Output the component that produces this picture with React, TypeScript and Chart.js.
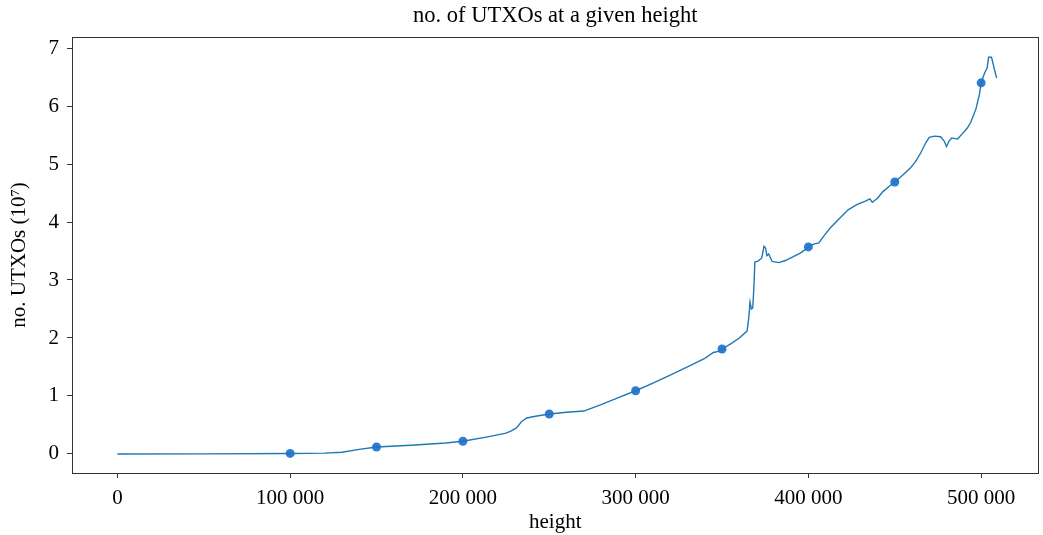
import React, { useEffect, useRef } from "react";
import { Chart, registerables } from "chart.js";

Chart.register(...registerables);

const heights = [
  0, 50000, 100000, 120000, 130000, 140000, 150000, 170000, 190000, 200000,
  215000, 225000, 228000, 231000, 234000, 237000, 242000, 250000, 260000, 270000,
  280000, 290000, 300000, 310000, 320000, 330000, 340000, 345000, 348000, 350000,
  355000, 360000, 364500, 365500, 366200, 367000, 367800, 368500, 369000, 371000,
  373000, 374300, 375200, 376000, 377000, 379000, 383000, 387000, 391000, 395000,
  398000, 400000, 403000, 406000, 410000, 413000, 418000, 423000, 428000, 433000,
  435600, 437000, 440000, 443000, 447000, 450000, 455000, 459000, 462000, 465000,
  468000, 470000, 473000, 476500, 478500, 480000, 481500, 483000, 486400, 489000,
  492000, 494000, 497000, 499000, 500000, 502000, 503500, 504300, 506000, 507800,
  509000,
];
const utxos = [
  0.0, 0.002, 0.008, 0.015, 0.03, 0.08, 0.12, 0.15, 0.19, 0.22,
  0.3, 0.36, 0.4, 0.45, 0.56, 0.62, 0.65, 0.69, 0.72, 0.74,
  0.85, 0.97, 1.09, 1.22, 1.36, 1.5, 1.65, 1.75, 1.77, 1.81,
  1.9, 2.0, 2.12, 2.35, 2.62, 2.5, 2.52, 2.9, 3.31, 3.33,
  3.38, 3.58, 3.55, 3.42, 3.45, 3.32, 3.3, 3.34, 3.4, 3.46,
  3.52, 3.57, 3.62, 3.64, 3.8, 3.91, 4.06, 4.21, 4.3, 4.36,
  4.4, 4.34, 4.41, 4.52, 4.62, 4.69, 4.82, 4.93, 5.04, 5.19,
  5.37, 5.46, 5.48, 5.47, 5.4, 5.3, 5.4, 5.45, 5.43, 5.52,
  5.62, 5.72, 5.95, 6.2, 6.4, 6.57, 6.66, 6.84, 6.84, 6.62,
  6.48,
];
const markerHeights = [100000, 150000, 200000, 250000, 300000, 350000, 400000, 450000, 500000];
const markerValues = [0.01, 0.12, 0.22, 0.69, 1.09, 1.81, 3.57, 4.69, 6.4];
const xTicks = [0, 100000, 200000, 300000, 400000, 500000];
const yTicks = [0, 1, 2, 3, 4, 5, 6, 7];
const chartTitle = "no. of UTXOs at a given height";

const FONT = "'Liberation Serif', 'Times New Roman', serif";

const fmt = (v: number) => {
  const s = Math.round(v).toString();
  return s.replace(/\B(?=(\d{3})+(?!\d))/g, " ");
};

const framePlugin = {
  id: "frame",
  afterDraw(chart: any) {
    const { ctx, chartArea } = chart;
    ctx.save();
    ctx.strokeStyle = "#333";
    ctx.lineWidth = 1;
    ctx.strokeRect(
      Math.round(chartArea.left) + 0.5,
      Math.round(chartArea.top) + 0.5,
      Math.round(chartArea.right - chartArea.left) - 1,
      Math.round(chartArea.bottom - chartArea.top)
    );
    ctx.fillStyle = "#000";
    ctx.font = `22.5px ${FONT}`;
    ctx.textAlign = "center";
    ctx.textBaseline = "middle";
    ctx.fillText(chartTitle, (chartArea.left + chartArea.right) / 2, 16);
    ctx.restore();
  },
};

export default function App() {
  const ref = useRef<HTMLCanvasElement>(null);
  useEffect(() => {
    document.body.style.margin = "0";
    const chart = new Chart(ref.current!, {
      type: "line",
      data: {
        datasets: [
          {
            label: "line",
            data: heights.map((h, i) => ({ x: h, y: utxos[i] })),
            borderColor: "#1f77b4",
            borderWidth: 1.4,
            pointRadius: 0,
            tension: 0,
            fill: false,
          },
          {
            label: "markers",
            data: markerHeights.map((h, i) => ({ x: h, y: markerValues[i] })),
            showLine: false,
            pointRadius: 4.5,
            pointBackgroundColor: "#2e7dd4",
            pointBorderColor: "#2e7dd4",
            pointBorderWidth: 0,
          },
        ],
      },
      options: {
        animation: false,
        responsive: true,
        maintainAspectRatio: false,
        layout: { padding: { top: 37, right: -2, bottom: 0, left: 0 } },
        plugins: {
          legend: { display: false },
          tooltip: { enabled: false },
          title: { display: false },
        },
        scales: {
          x: {
            type: "linear",
            min: -26270,
            max: 533200,
            afterFit: (s: any) => {
              s.height = 62;
              s.paddingLeft = 0;
              s.paddingRight = 0;
            },
            afterBuildTicks: (s: any) => {
              s.ticks = xTicks.map((v) => ({ value: v }));
            },
            ticks: {
              color: "#000",
              font: { family: FONT, size: 21 },
              padding: 8,
              maxRotation: 0,
              callback: (v: any) => fmt(Number(v)),
            },
            grid: {
              display: true,
              drawOnChartArea: false,
              drawTicks: true,
              tickLength: 5,
              color: "#333",
            },
            border: { display: false },
            title: {
              display: true,
              text: "height",
              color: "#000",
              font: { family: FONT, size: 21, lineHeight: 1.2 },
              padding: { top: 0, bottom: 0 },
            },
          },
          y: {
            type: "linear",
            min: -0.328,
            max: 7.19,
            afterFit: (s: any) => {
              s.width = 72;
            },
            afterBuildTicks: (s: any) => {
              s.ticks = yTicks.map((v) => ({ value: v }));
            },
            ticks: {
              color: "#000",
              font: { family: FONT, size: 21 },
              padding: 8,
              callback: (v: any) => String(v),
            },
            grid: {
              display: true,
              drawOnChartArea: false,
              drawTicks: true,
              tickLength: 5,
              color: "#333",
            },
            border: { display: false },
            title: {
              display: true,
              text: "no. UTXOs (10\u2077)",
              color: "#000",
              font: { family: FONT, size: 21, lineHeight: 1.2 },
              padding: { top: 7, bottom: 0 },
            },
          },
        },
      },
      plugins: [framePlugin],
    });
    return () => chart.destroy();
  }, []);
  return (
    <div style={{ position: "relative", width: 1043, height: 535 }}>
      <canvas ref={ref} />
    </div>
  );
}
